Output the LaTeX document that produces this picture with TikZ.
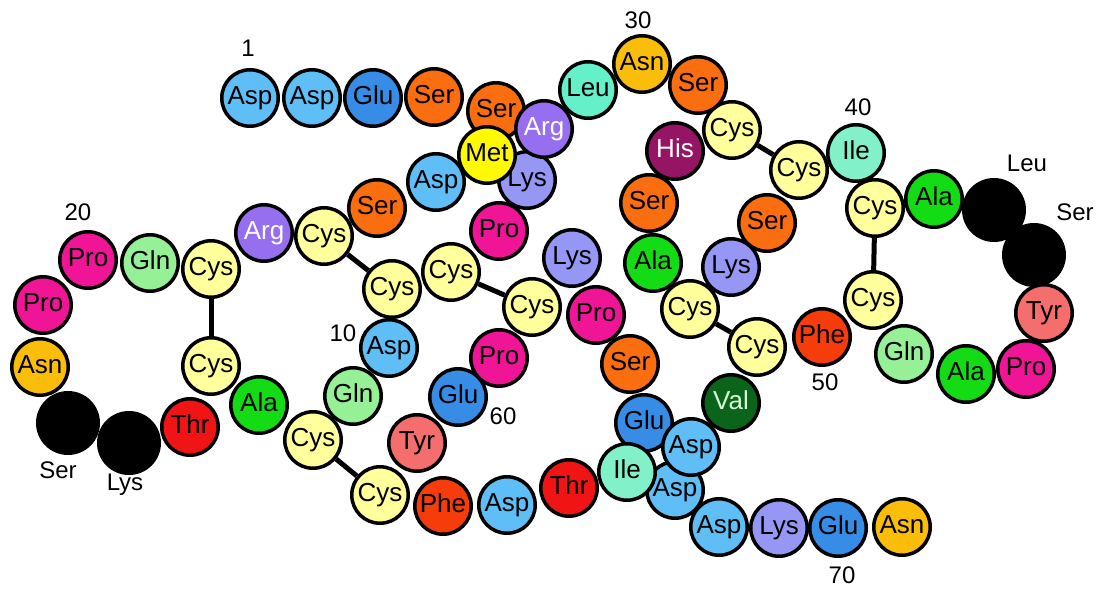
\documentclass[tikz,border=0pt]{standalone}
\usepackage{fontspec}
\setmainfont{Liberation Sans}
\definecolor{cAsp}{RGB}{95,190,245}
\definecolor{cGlu}{RGB}{55,140,230}
\definecolor{cSer}{RGB}{250,110,15}
\definecolor{cArg}{RGB}{150,110,240}
\definecolor{cMet}{RGB}{255,250,0}
\definecolor{cLys}{RGB}{150,150,245}
\definecolor{cLeu}{RGB}{100,240,200}
\definecolor{cIle}{RGB}{130,240,200}
\definecolor{cAsn}{RGB}{250,190,10}
\definecolor{cCys}{RGB}{255,255,155}
\definecolor{cHis}{RGB}{150,20,100}
\definecolor{cAla}{RGB}{20,220,20}
\definecolor{cPro}{RGB}{240,20,150}
\definecolor{cGln}{RGB}{150,240,150}
\definecolor{cThr}{RGB}{240,20,20}
\definecolor{cPhe}{RGB}{245,60,10}
\definecolor{cTyr}{RGB}{245,110,110}
\definecolor{cVal}{RGB}{10,100,25}
\tikzset{
  res/.style={circle, draw=black, line width=3.5pt, minimum size=56.5pt, inner sep=0pt,
    font=\fontsize{26}{26}\selectfont, text height=18pt, text depth=5pt},
  blk/.style={circle, draw=black, fill=black, line width=3pt, minimum size=61pt, inner sep=0pt},
  lbl/.style={inner sep=0pt, font=\fontsize{24}{24}\selectfont},
  bond/.style={line width=5pt},
  rAsp/.style={res, fill=cAsp}, rGlu/.style={res, fill=cGlu},
  rSer/.style={res, fill=cSer}, rArg/.style={res, fill=cArg, text=white},
  rMet/.style={res, fill=cMet}, rLys/.style={res, fill=cLys},
  rLeu/.style={res, fill=cLeu}, rIle/.style={res, fill=cIle},
  rAsn/.style={res, fill=cAsn}, rCys/.style={res, fill=cCys},
  rHis/.style={res, fill=cHis, text=white}, rAla/.style={res, fill=cAla},
  rPro/.style={res, fill=cPro}, rGln/.style={res, fill=cGln},
  rThr/.style={res, fill=cThr}, rPhe/.style={res, fill=cPhe},
  rTyr/.style={res, fill=cTyr}, rVal/.style={res, fill=cVal, text=green!15!white}
}
\begin{document}
\begin{tikzpicture}[x=1pt, y=-1pt]
\useasboundingbox[fill=white] (0,0) rectangle (1101,589);
% top row
\node[rAsp] (r1) at (250,98) {Asp};
\node[rAsp] (r2) at (312,98) {Asp};
\node[rGlu] (r3) at (373,98) {Glu};
\node[rSer] (r4) at (434,97) {Ser};
\node[rSer] (r5) at (496,111) {Ser};
\node[rLys] (r8) at (527,180) {Lys};
\node[rArg] (r6) at (544,129) {Arg};
\node[rMet] (r7) at (487,155) {Met};
% left part
\node[rAsp] (b1) at (436,182) {Asp};
\node[rSer] (b2) at (377,208) {Ser};
\node[rCys] (b3) at (324,236) {Cys};
\node[rArg] (b4) at (264,233) {Arg};
\node[rCys] (b5) at (211,269) {Cys};
\node[rGln] (b6) at (150,263) {Gln};
\node[rPro] (b7) at (88,260) {Pro};
\node[rPro] (b8) at (43,305) {Pro};
\node[rAsn] (b9) at (40,367) {Asn};
\node[blk] (b10) at (68,423) {};
\node[blk] (b11) at (129,443) {};
\node[rThr] (b12) at (190,427) {Thr};
\node[rCys] (b13) at (211,366) {Cys};
\node[rAla] (b14) at (259,405) {Ala};
\node[rCys] (b15) at (313,440) {Cys};
\node[rGln] (b16) at (353,396) {Gln};
\node[rAsp] (b17) at (389,348) {Asp};
\node[rCys] (b18) at (392,289) {Cys};
\node[rCys] (b19) at (451,272) {Cys};
\node[rPro] (b20) at (499,231) {Pro};
\node[rLys] (b21) at (572,258) {Lys};
\node[rCys] (b22) at (532,307) {Cys};
\node[rPro] (b23) at (596,315) {Pro};
\node[rSer] (b24) at (630,364) {Ser};
\node[rGlu] (b25) at (644,423) {Glu};
\node[rAsp] (b26) at (675,490) {Asp};
\node[rIle] (b27) at (627,472) {Ile};
\node[rAsp] (b28) at (691,447) {Asp};
\node[rAsp] (b29) at (719,527) {Asp};
\node[rLys] (b30) at (779,528) {Lys};
\node[rGlu] (b31) at (838,528) {Glu};
\node[rAsn] (b32) at (902,527) {Asn};
% lower middle
\node[rPro] (c1) at (499,358) {Pro};
\node[rGlu] (c2) at (458,397) {Glu};
\node[rTyr] (c3) at (417,443) {Tyr};
\node[rCys] (c4) at (380,495) {Cys};
\node[rPhe] (c5) at (443,506) {Phe};
\node[rAsp] (c6) at (507,505) {Asp};
\node[rThr] (c7) at (569,488) {Thr};
% right part
\node[rVal] (d1) at (731,403) {Val};
\node[rCys] (d2) at (757,347) {Cys};
\node[rPhe] (d3) at (822,337) {Phe};
\node[rCys] (d4) at (690,309) {Cys};
\node[rAla] (d5) at (653,263) {Ala};
\node[rSer] (d6) at (649,203) {Ser};
\node[rHis] (d7) at (675,151) {His};
\node[rCys] (d8) at (732,130) {Cys};
\node[rSer] (d9) at (698,85) {Ser};
\node[rAsn] (d10) at (642,64) {Asn};
\node[rLeu] (d11) at (588,90) {Leu};
\node[rLys] (d12) at (731,267) {Lys};
\node[rSer] (d13) at (767,223) {Ser};
\node[rCys] (d14) at (799,170) {Cys};
\node[rIle] (d15) at (856,153) {Ile};
\node[rCys] (d16) at (875,208) {Cys};
\node[rAla] (d17) at (934,199) {Ala};
\node[blk] (d18) at (994,210) {};
\node[blk] (d19) at (1034,255) {};
\node[rTyr] (d20) at (1044,313) {Tyr};
\node[rPro] (d21) at (1026,369) {Pro};
\node[rAla] (d22) at (966,374) {Ala};
\node[rGln] (d23) at (904,354) {Gln};
\node[rCys] (d24) at (873,300) {Cys};
% disulfide bonds
\draw[bond] (b5) -- (b13);
\draw[bond] (b3) -- (b18);
\draw[bond] (b19) -- (b22);
\draw[bond] (b15) -- (c4);
\draw[bond] (d8) -- (d14);
\draw[bond] (d16) -- (d24);
\draw[bond] (d4) -- (d2);
% labels
\node[lbl] (t1) at (248,48) {1};
\node[lbl] (t10) at (343,333) {10};
\node[lbl] (t20) at (78,212) {20};
\node[lbl] (t30) at (638,20) {30};
\node[lbl] (t40) at (858,107) {40};
\node[lbl] (t50) at (825,382) {50};
\node[lbl] (t60) at (503,416) {60};
\node[lbl] (t70) at (842,575) {70};
\node[lbl] (tLeu) at (1027,163) {Leu};
\node[lbl] (tSerR) at (1075,212) {Ser};
\node[lbl] (tSerL) at (58,470) {Ser};
\node[lbl] (tLys) at (125,485) {Lys};
\end{tikzpicture}
\end{document}
